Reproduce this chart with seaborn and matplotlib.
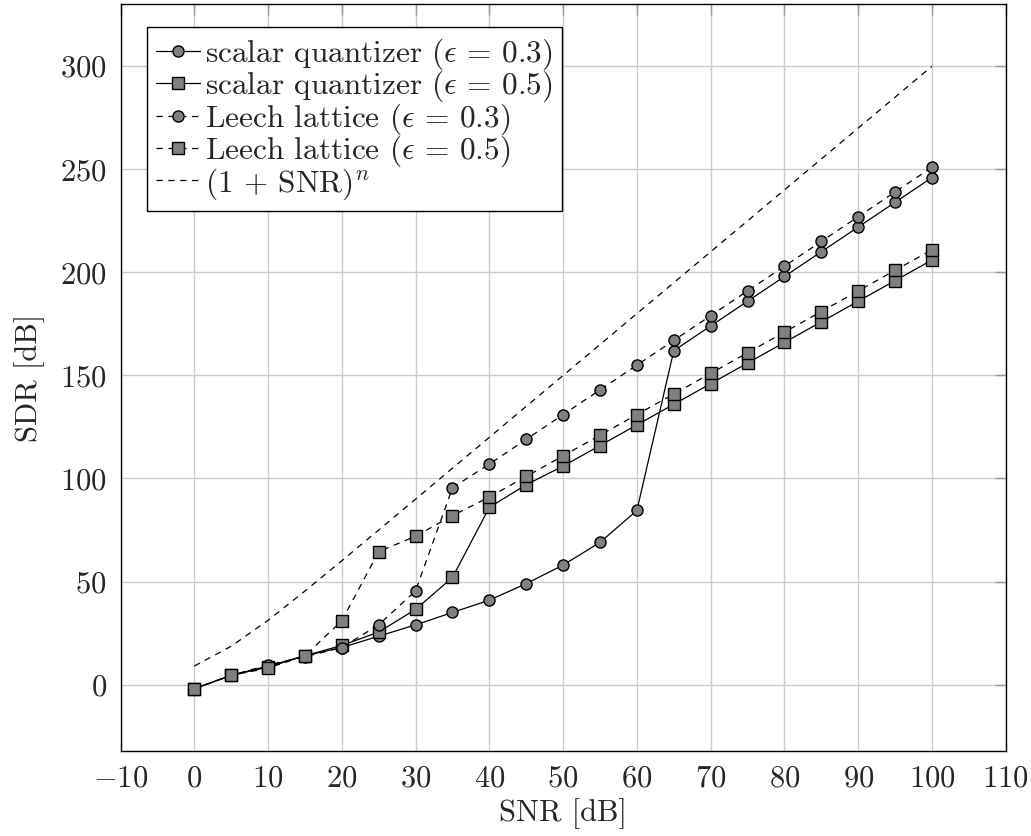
import numpy as np
import pandas as pd
import matplotlib
matplotlib.use("Agg")
import matplotlib.pyplot as plt
import seaborn as sns

# SNR grid (dB) and SDR curves (dB)
snr = [0, 5, 10, 15, 20, 25, 30, 35, 40, 45, 50, 55, 60, 65, 70, 75, 80, 85, 90, 95, 100]

scalar_03 = [-2, 4.5, 9, 14, 18, 23.5, 29, 35, 41, 49, 58, 69, 84.5, 162, 174, 186, 198, 210, 222, 234, 246]
scalar_05 = [-2, 4.5, 8.5, 14, 19, 25.5, 36.5, 52, 86, 97, 106, 116, 126, 136, 146, 156, 166, 176, 186, 196, 206]
leech_03 = [-2, 4.5, 9.5, 13.5, 18, 29, 45.5, 95.5, 107, 119, 131, 143, 155, 167, 179, 191, 203, 215, 227, 239, 251]
leech_05 = [-2, 4.5, 8, 14, 31, 64.5, 72, 82, 91, 101, 111, 121, 131, 141, 151, 161, 171, 181, 191, 201, 211]
bound = [9.0, 18.6, 31.2, 45.4, 60.1, 75.0, 90.0, 105, 120, 135, 150, 165, 180, 195, 210, 225, 240, 255, 270, 285, 300]

labels = [
    r"scalar quantizer ($\epsilon$ = 0.3)",
    r"scalar quantizer ($\epsilon$ = 0.5)",
    r"Leech lattice ($\epsilon$ = 0.3)",
    r"Leech lattice ($\epsilon$ = 0.5)",
    r"(1 + SNR)$^n$",
]

sns.set_style("white")
plt.rcParams.update({
    "font.family": "serif",
    "font.serif": ["cmr10"],
    "mathtext.fontset": "cm",
    "axes.formatter.use_mathtext": True,
    "font.size": 22,
})

fig = plt.figure(figsize=(10.31, 8.36), dpi=100)
ax = fig.add_axes([0.1169, 0.1017, 0.9755 - 0.1169, 0.9952 - 0.1017])

dash = (0, (5, 4.5))
mk = dict(markerfacecolor="#808080", markeredgecolor="black", markeredgewidth=1.0, markersize=8)

series = [
    (scalar_03, "o", "-"),
    (scalar_05, "s", "-"),
    (leech_03, "o", dash),
    (leech_05, "s", dash),
]
for vals, m, ls in series:
    df = pd.DataFrame({"SNR": snr, "SDR": vals})
    sns.lineplot(data=df, x="SNR", y="SDR", ax=ax, color="black", linewidth=0.9,
                 linestyle=ls, marker=m, **mk)
sns.lineplot(x=snr, y=bound, ax=ax, color="black", linewidth=0.9, linestyle=dash)

ax.set_xlim(-10, 110)
ax.set_ylim(-32.2, 330.2)
ax.set_xticks(np.arange(-10, 111, 10))
ax.set_yticks(np.arange(0, 301, 50))
ax.grid(True, color="#cccccc", linewidth=1.0)
ax.set_axisbelow(True)
ax.tick_params(direction="in", length=8, width=1, color="#999999",
               top=True, right=True, labelsize=22, pad=10)
for s in ax.spines.values():
    s.set_color("black")
    s.set_linewidth(1.0)
ax.set_xlabel("SNR [dB]", fontsize=22, labelpad=4)
ax.set_ylabel("SDR [dB]", fontsize=22, labelpad=11)

leg = ax.legend(ax.get_lines(), labels, loc="upper left", bbox_to_anchor=(0.030, 0.969),
                borderaxespad=0, fancybox=False, edgecolor="black", framealpha=1,
                handlelength=1.4, handletextpad=0.15, labelspacing=-0.1,
                borderpad=0.3, fontsize=22.5)
leg.get_frame().set_linewidth(1.0)

fig.savefig("out.png", dpi=100)
